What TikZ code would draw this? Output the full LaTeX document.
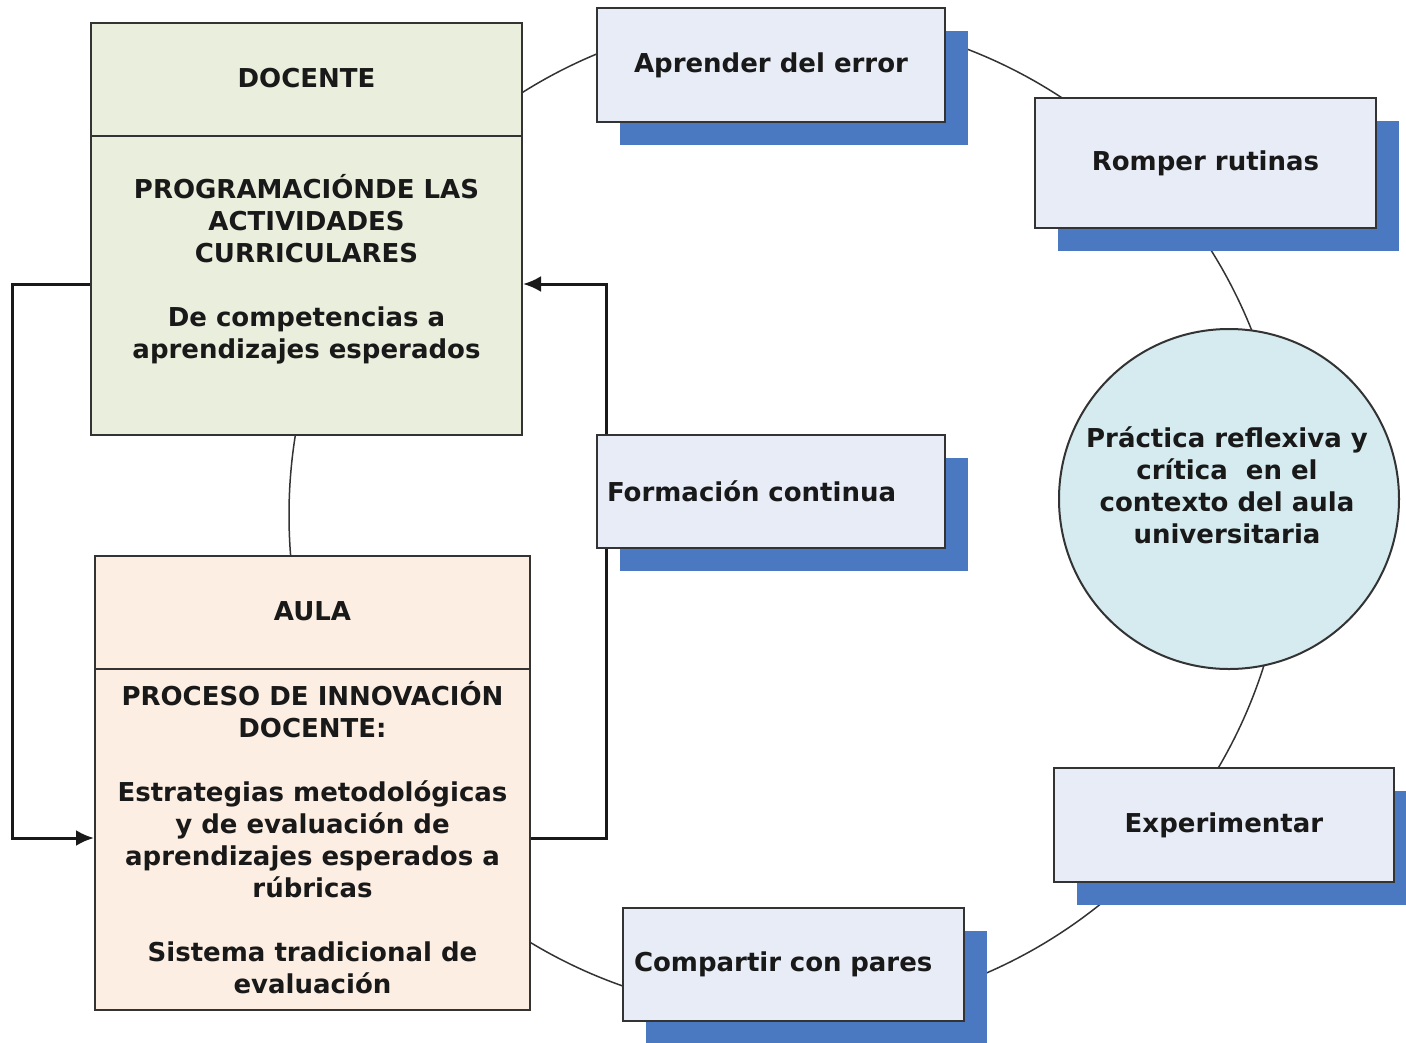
\documentclass[tikz,border=0pt]{standalone}
\usepackage{fontspec}
\setmainfont{DejaVu Sans}
\usetikzlibrary{arrows.meta,shadows}
\definecolor{docfill}{HTML}{EAEEDC}
\definecolor{aulafill}{HTML}{FCEEE2}
\definecolor{boxfill}{HTML}{E7ECF7}
\definecolor{shadowblue}{HTML}{4A79C1}
\definecolor{circfill}{HTML}{D5EBEF}
\definecolor{edge}{HTML}{333333}
\begin{document}
\begin{tikzpicture}[x=1pt,y=-1pt,
  txt/.style={font=\bfseries\fontsize{26}{32}\selectfont, align=center, inner sep=0pt, text=black!90},
  bigbox/.style={draw=edge, line width=2pt, inner sep=0pt},
  smallbox/.style={draw=edge, fill=boxfill, line width=2pt, inner sep=0pt,
    font=\bfseries\fontsize{26}{32}\selectfont, align=center, text=black!90,
    drop shadow={shadow xshift=23pt, shadow yshift=-23pt, fill=shadowblue, opacity=1}},
  ring/.style={draw=edge, line width=1.5pt},
  fb/.style={draw=black!90, line width=3pt, -{Latex[length=18pt,width=16pt]}}
]
\useasboundingbox (0,0) rectangle (1406,1042);
\fill[white] (0,0) rectangle (1406,1042);

% big ring behind everything
\draw[ring] (788,515) circle (499pt);

\node[bigbox, fill=docfill, minimum width=431pt, minimum height=412pt] (doc) at (306.5,229) {};
\node[bigbox, fill=aulafill, minimum width=435pt, minimum height=454pt] (aula) at (312.5,783) {};
% feedback connectors (drawn before the small boxes)
\draw[fb] (doc.west |- 0,284) -- ++(-78,0) |- (aula.west |- 0,838);
\draw[fb] (aula.east |- 0,838) -- ++(75,0) |- (doc.east |- 0,284);

\draw[bigbox] (doc.west |- 0,136) -- (doc.east |- 0,136);
\node[txt] (doctitle) at (306.5,78) {DOCENTE};
\node[txt] (docbody) at (306.5,269) {PROGRAMACIÓNDE LAS\\ACTIVIDADES\\CURRICULARES\\[32pt]De competencias a\\aprendizajes esperados};

\draw[bigbox] (aula.west |- 0,669) -- (aula.east |- 0,669);
\node[txt] (aulatitle) at (312.5,611) {AULA};
\node[txt] (aulabody) at (312.5,837.5) {PROCESO DE INNOVACIÓN\\DOCENTE:\\[32pt]Estrategias metodológicas\\y de evaluación de\\aprendizajes esperados a\\rúbricas\\[32pt]Sistema tradicional de\\evaluación};

% small boxes
\node[smallbox, minimum width=348pt, minimum height=114pt] (aprender) at (771,65) {Aprender del error};
\node[smallbox, minimum width=341pt, minimum height=130pt] (romper) at (1205.5,163) {Romper rutinas};
\node[smallbox, minimum height=113pt, inner xsep=10pt, text width=328pt, align=left] (formacion) at (771,491.5) {Formación continua};
\node[smallbox, minimum width=340pt, minimum height=114pt] (experimentar) at (1224,825) {Experimentar};
\node[smallbox, minimum height=113pt, inner xsep=11pt, text width=319pt, align=left] (compartir) at (793.5,964.5) {Compartir con pares};

% central circle
\node[circle, draw=edge, line width=2pt, fill=circfill, minimum size=340pt, inner sep=0pt] (practica) at (1229,499) {};
\node[txt] (practicatxt) at (1227,485) {Práctica reflexiva y\\crítica~ en el\\contexto del aula\\universitaria};
\end{tikzpicture}
\end{document}
